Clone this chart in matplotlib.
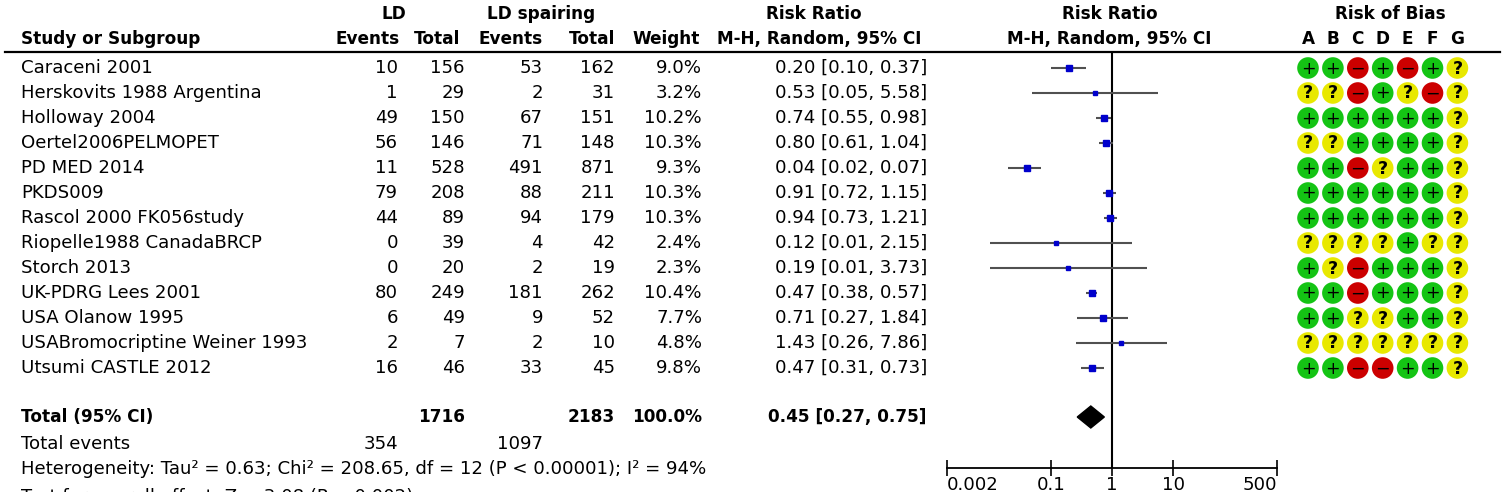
import matplotlib
matplotlib.use("Agg")
import matplotlib.pyplot as plt
from matplotlib.patches import Circle, Polygon

studies = ["Caraceni 2001", "Herskovits 1988 Argentina", "Holloway 2004",
           "Oertel2006PELMOPET", "PD MED 2014", "PKDS009", "Rascol 2000 FK056study",
           "Riopelle1988 CanadaBRCP", "Storch 2013", "UK-PDRG Lees 2001",
           "USA Olanow 1995", "USABromocriptine Weiner 1993", "Utsumi CASTLE 2012"]
ld_events = [10, 1, 49, 56, 11, 79, 44, 0, 0, 80, 6, 2, 16]
ld_total = [156, 29, 150, 146, 528, 208, 89, 39, 20, 249, 49, 7, 46]
lds_events = [53, 2, 67, 71, 491, 88, 94, 4, 2, 181, 9, 2, 33]
lds_total = [162, 31, 151, 148, 871, 211, 179, 42, 19, 262, 52, 10, 45]
weights = [9.0, 3.2, 10.2, 10.3, 9.3, 10.3, 10.3, 2.4, 2.3, 10.4, 7.7, 4.8, 9.8]
rr = [0.20, 0.53, 0.74, 0.80, 0.04, 0.91, 0.94, 0.12, 0.19, 0.47, 0.71, 1.43, 0.47]
ci_low = [0.10, 0.05, 0.55, 0.61, 0.02, 0.72, 0.73, 0.01, 0.01, 0.38, 0.27, 0.26, 0.31]
ci_high = [0.37, 5.58, 0.98, 1.04, 0.07, 1.15, 1.21, 2.15, 3.73, 0.57, 1.84, 7.86, 0.73]
rob = ["++-+-+?", "??-+?-?", "++++++?", "??++++?", "++-?++?", "++++++?", "++++++?",
       "????+??", "+?-+++?", "++-+++?", "++??++?", "???????", "++--++?"]
rob_domains = ["A", "B", "C", "D", "E", "F", "G"]
total_ld = 1716
total_lds = 2183
total_events_ld = 354
total_events_lds = 1097
total_rr, total_lo, total_hi = 0.45, 0.27, 0.75
xticks = [0.002, 0.1, 1, 10, 500]
xtick_labels = ["0.002", "0.1", "1", "10", "500"]

W, H = 1503, 492
fig = plt.figure(figsize=(W / 100, H / 100), dpi=100)
ax = fig.add_axes([0, 0, 1, 1])
ax.set_xlim(0, W)
ax.set_ylim(H, 0)
ax.axis("off")

FS = 13.1
FSB = 12.2
row0, dy = 68, 25
rows = [row0 + dy * i for i in range(len(studies))]
y_total = 417
y_tev = 444
y_het = 469
y_test = 497

# header
hy1, hy2 = 14, 39
ax.text(394, hy1, "LD", ha="center", va="center", fontsize=FSB, fontweight="bold")
ax.text(541, hy1, "LD spairing", ha="center", va="center", fontsize=FSB, fontweight="bold")
ax.text(814, hy1, "Risk Ratio", ha="center", va="center", fontsize=FSB, fontweight="bold")
ax.text(1110, hy1, "Risk Ratio", ha="center", va="center", fontsize=FSB, fontweight="bold")
ax.text(1390, hy1, "Risk of Bias", ha="center", va="center", fontsize=FSB, fontweight="bold")
ax.text(21, hy2, "Study or Subgroup", ha="left", va="center", fontsize=FSB, fontweight="bold")
for x, s in [(400, "Events"), (460, "Total"), (543, "Events"), (615, "Total"), (700, "Weight")]:
    ax.text(x, hy2, s, ha="right", va="center", fontsize=FSB, fontweight="bold")
ax.text(819, hy2, "M-H, Random, 95% CI", ha="center", va="center", fontsize=FSB, fontweight="bold")
ax.text(1109, hy2, "M-H, Random, 95% CI", ha="center", va="center", fontsize=FSB, fontweight="bold")
rob_x = [1308 + 24.9 * i for i in range(7)]
for x, s in zip(rob_x, rob_domains):
    ax.text(x, hy2, s, ha="center", va="center", fontsize=FSB, fontweight="bold")
ax.plot([5, 1500], [52, 52], color="black", lw=1.6)

# rows
for i, y in enumerate(rows):
    ax.text(21, y, studies[i], ha="left", va="center", fontsize=FS)
    ax.text(398, y, str(ld_events[i]), ha="right", va="center", fontsize=FS)
    ax.text(465, y, str(ld_total[i]), ha="right", va="center", fontsize=FS)
    ax.text(543, y, str(lds_events[i]), ha="right", va="center", fontsize=FS)
    ax.text(615, y, str(lds_total[i]), ha="right", va="center", fontsize=FS)
    ax.text(702, y, f"{weights[i]:.1f}%", ha="right", va="center", fontsize=FS)
    ax.text(927, y, f"{rr[i]:.2f} [{ci_low[i]:.2f}, {ci_high[i]:.2f}]", ha="right",
            va="center", fontsize=FS)

ax.text(21, y_total, "Total (95% CI)", ha="left", va="center", fontsize=FSB, fontweight="bold")
ax.text(465, y_total, str(total_ld), ha="right", va="center", fontsize=FSB, fontweight="bold")
ax.text(615, y_total, str(total_lds), ha="right", va="center", fontsize=FSB, fontweight="bold")
ax.text(702, y_total, "100.0%", ha="right", va="center", fontsize=FSB, fontweight="bold")
ax.text(927, y_total, f"{total_rr:.2f} [{total_lo:.2f}, {total_hi:.2f}]", ha="right",
        va="center", fontsize=FSB, fontweight="bold")
ax.text(21, y_tev, "Total events", ha="left", va="center", fontsize=FS)
ax.text(398, y_tev, str(total_events_ld), ha="right", va="center", fontsize=FS)
ax.text(543, y_tev, str(total_events_lds), ha="right", va="center", fontsize=FS)
ax.text(21, y_het, "Heterogeneity: Tau\u00b2 = 0.63; Chi\u00b2 = 208.65, df = 12 (P < 0.00001); I\u00b2 = 94%",
        ha="left", va="center", fontsize=FS)
ax.text(21, y_test, "Test for overall effect: Z = 3.08 (P = 0.002)", ha="left", va="center", fontsize=FS)

# risk of bias
colors = {"+": "#14c414", "-": "#cc0000", "?": "#e8e800"}
symbols = {"+": "+", "-": "\u2212", "?": "?"}
weights_sym = {"+": "normal", "-": "normal", "?": "bold"}
for i, y in enumerate(rows):
    for j, c in enumerate(rob[i]):
        ax.add_patch(Circle((rob_x[j], y), 10.8, facecolor=colors[c], edgecolor="none"))
        ax.text(rob_x[j], y + 0.5, symbols[c], ha="center", va="center", fontsize=12.5,
                fontweight=weights_sym[c], color="black")

# forest plot
x0, x1 = 947, 1277
yb, yt = 468, 52
fax = fig.add_axes([x0 / W, 1 - yb / H, (x1 - x0) / W, (yb - yt) / H])
fax.set_xscale("log")
fax.set_xlim(0.002, 500)
fax.set_ylim(yb, yt)
fax.patch.set_alpha(0)
for s in ["top", "left", "right"]:
    fax.spines[s].set_visible(False)
fax.spines["bottom"].set_linewidth(1.3)
fax.set_yticks([])
fax.set_xticks(xticks)
fax.set_xticklabels(xtick_labels)
fax.minorticks_off()
fax.tick_params(axis="x", direction="inout", length=11, width=1.2, labelsize=FS, pad=0)
tl = fax.get_xticklabels()
tl[0].set_horizontalalignment("left")
tl[-1].set_horizontalalignment("right")
fax.axvline(1, color="black", lw=1.5)
for i, y in enumerate(rows):
    fax.plot([ci_low[i], ci_high[i]], [y, y], color="#505050", lw=1.5, solid_capstyle="butt")
    side = 2.1 * (weights[i] ** 0.5)
    fax.plot([rr[i]], [y], marker="s", markersize=side * 0.72, color="#0000cc", mec="#0000cc")
dh = 11
fax.add_patch(Polygon([[total_lo, y_total], [total_rr, y_total - dh], [total_hi, y_total],
                       [total_rr, y_total + dh]], closed=True, facecolor="black", edgecolor="black"))

fig.savefig("out.png", dpi=100)
